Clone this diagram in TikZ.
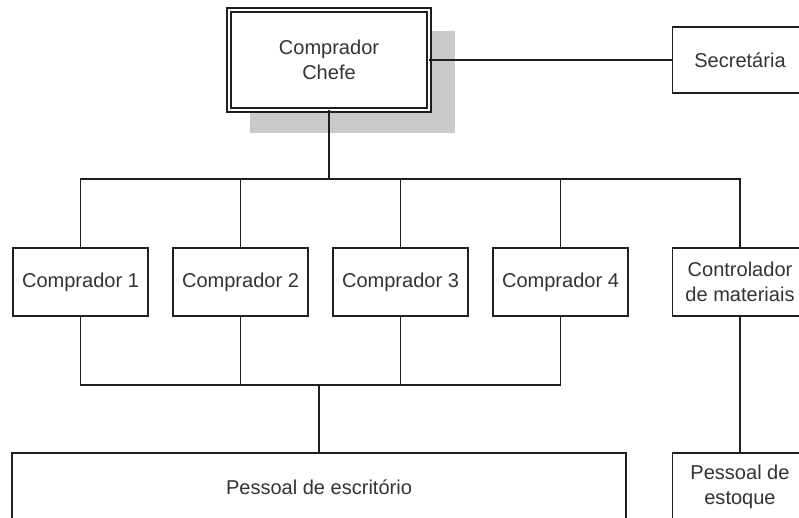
\documentclass[tikz,border=0pt]{standalone}
\usepackage{fontspec}
\setmainfont{Liberation Sans}
\usepackage{tikz}
\usetikzlibrary{positioning}

\definecolor{linha}{HTML}{1E1E1E}
\definecolor{texto}{HTML}{333333}
\definecolor{sombra}{HTML}{CACACA}

\begin{document}
\begin{tikzpicture}
      % Define styles for nodes
      \tikzset{
        caixa/.style={rectangle, draw=linha, line width=0.8pt, fill=white, minimum width=2.7cm, minimum height=1.36cm, inner sep=0pt, outer sep=0pt, align=center, text=texto, font=\fontsize{11.4}{14.3}\selectfont},
        chefebox/.style={caixa, double=white, double distance=1.5pt, minimum width=4cm, minimum height=2cm},
        conector/.style={draw=linha, line width=0.8pt}
      }

      % Fix the page to the picture frame
      \useasboundingbox (0,0) rectangle (15.98,-10.36);
      \clip (0,0) rectangle (15.98,-10.36);

      % Shadow behind the chief box
      \fill[sombra] (5.0,-0.62) rectangle (9.1,-2.66);

      % Create the chart with the nodes
      \node[chefebox] (chefe) at (6.58,-1.2) {Comprador\\Chefe};
      \node[caixa, minimum height=1.32cm] (secr) at (14.8,-1.2) {Secretária};

      \node[caixa] (comp1) at (1.61,-5.64) {Comprador 1};
      \node[caixa, right=0.5cm of comp1] (comp2) {Comprador 2};
      \node[caixa, right=0.5cm of comp2] (comp3) {Comprador 3};
      \node[caixa, right=0.5cm of comp3] (comp4) {Comprador 4};
      \node[caixa, right=0.89cm of comp4] (ctrl) {Controlador\\de materiais};

      \node[caixa, minimum width=12.28cm] (escrit) at (6.38,-9.74) {Pessoal de escritório};
      \node[caixa, below=2.74cm of ctrl] (estoque) {Pessoal de\\estoque};

      % Bus junctions
      \coordinate (barraA) at (6.58,-3.58);
      \coordinate (barraB) at (6.38,-7.7);

      % Draw the edges connecting the nodes
      \draw[conector] (chefe.east) -- (secr.west);
      \draw[conector] (chefe.south) -- (barraA);
      \draw[conector] (comp1.north) |- (ctrl.north |- barraA) -- (ctrl.north);
      \foreach \n in {comp2, comp3, comp4}
        \draw[conector] (\n.north) -- (\n.north |- barraA);

      \draw[conector] (comp1.south) |- (comp4.south |- barraB) -- (comp4.south);
      \foreach \n in {comp2, comp3}
        \draw[conector] (\n.south) -- (\n.south |- barraB);
      \draw[conector] (barraB) -- (escrit.north);

      \draw[conector] (ctrl.south) -- (estoque.north);
    \end{tikzpicture}
\end{document}
